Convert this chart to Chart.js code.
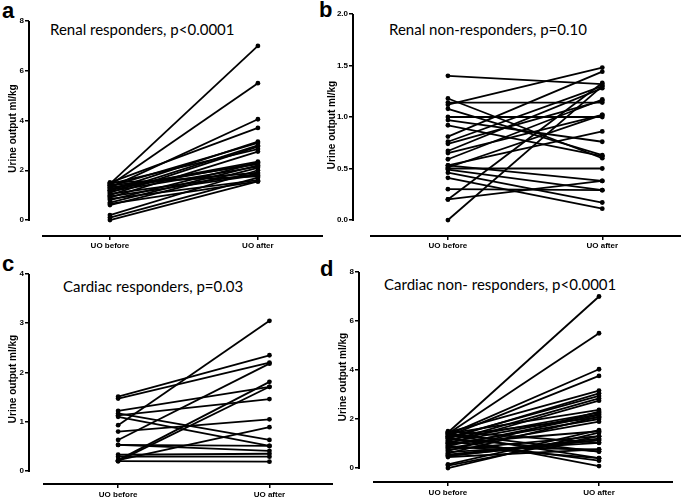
<!DOCTYPE html>
<html>
<head>
<meta charset="utf-8">
<script src="https://cdn.jsdelivr.net/npm/chart.js@4.4.0/dist/chart.umd.min.js"></script>
<style>
  body { margin: 0; background: #fff; width: 685px; height: 498px; position: relative; overflow: hidden; font-family: "Liberation Sans", Arial, sans-serif; }
  canvas { position: absolute; }
  .letter { position: absolute; font-weight: bold; font-size: 22px; line-height: 1; }
  .ttl { position: absolute; font-family: Lato, "Open Sans", sans-serif; font-size: 15px; line-height: 1; white-space: nowrap; }
</style>
</head>
<body>
<div class="letter" style="left:2px;top:0px">a</div>
<div class="letter" style="left:319px;top:-1px">b</div>
<div class="letter" style="left:2px;top:253px">c</div>
<div class="letter" style="left:320px;top:258px">d</div>

<div class="ttl" style="left:50px;top:22px">Renal responders, p&lt;0.0001</div>
<div class="ttl" style="left:389px;top:22px">Renal non-responders, p=0.10</div>
<div class="ttl" style="left:63px;top:279px">Cardiac responders, p=0.03</div>
<div class="ttl" style="left:384px;top:277px">Cardiac non- responders, p&lt;0.0001</div>

<canvas id="chartA" width="340" height="256" style="left:0px;top:0px"></canvas>
<canvas id="chartB" width="360" height="256" style="left:325px;top:0px"></canvas>
<canvas id="chartC" width="345" height="248" style="left:0px;top:250px"></canvas>
<canvas id="chartD" width="355" height="248" style="left:330px;top:250px"></canvas>

<script>
const xLabels = ["UO before", "UO after"];
const yTitle = "Urine output ml/kg";

// a - renal responders
const renalRespBefore = [1.45, 1.4, 1.3, 1.5, 1.2, 1.35, 1.1, 1.0, 1.45, 0.9, 1.25, 0.8, 1.3, 0.7, 1.15, 0.6, 1.4, 1.05, 0.95, 1.5, 0.85, 0.65, 0.2, 0.1, 0.0, 1.2];
const renalRespAfter  = [7.0, 5.5, 4.05, 3.7, 3.15, 3.1, 3.0, 2.95, 2.85, 2.75, 2.35, 2.3, 2.25, 2.2, 2.15, 2.1, 1.9, 1.85, 1.8, 1.75, 1.6, 1.55, 2.0, 1.7, 1.55, 2.3];
const renalRespTicks = [0, 2, 4, 6, 8];

// b - renal non-responders
const renalNonBefore = [1.40, 1.18, 1.12, 1.14, 1.08, 1.00, 0.97, 0.92, 0.81, 0.76, 0.74, 0.67, 0.65, 0.59, 0.53, 0.51, 0.50, 0.53, 0.49, 0.46, 0.41, 0.30, 0.20, 0.20, 0.00];
const renalNonAfter  = [1.32, 0.60, 1.48, 1.14, 0.63, 1.00, 0.76, 0.62, 1.44, 1.30, 1.16, 1.28, 1.02, 1.17, 0.86, 1.02, 0.50, 0.38, 0.29, 0.17, 0.11, 0.29, 0.38, 1.33, 1.30];
const renalNonTicks = [0, 0.5, 1.0, 1.5, 2.0];

// c - cardiac responders
const cardRespBefore = [1.51, 1.47, 0.93, 0.20, 0.63, 0.22, 1.22, 1.13, 1.17, 1.10, 0.80, 0.22, 0.53, 0.53, 0.33, 0.29, 0.20];
const cardRespAfter  = [2.35, 2.20, 3.05, 1.71, 2.18, 1.81, 1.71, 1.46, 0.63, 0.51, 1.05, 0.89, 0.51, 0.41, 0.35, 0.29, 0.19];
const cardRespTicks = [0, 1, 2, 3, 4];

// d - cardiac non-responders
const cardNonBefore = [1.45, 1.4, 1.35, 1.3, 1.45, 1.2, 1.25, 1.1, 1.0, 1.4, 1.15, 0.9, 1.3, 0.8, 0.7, 1.05, 0.6, 0.95, 0.15, 0.0, 0.1, 0.5, 1.5, 0.85, 1.2, 0.55, 1.0, 0.75, 1.35, 0.45, 1.1, 0.65, 1.25, 0.5, 1.4, 0.9];
const cardNonAfter  = [7.0, 5.5, 4.03, 3.76, 3.16, 3.05, 2.94, 2.84, 2.75, 2.37, 2.26, 2.16, 2.07, 1.89, 2.3, 2.2, 2.1, 2.0, 1.55, 1.44, 1.3, 1.14, 1.03, 0.76, 0.67, 1.2, 1.5, 1.3, 0.40, 0.76, 0.30, 1.03, 0.08, 1.14, 0.67, 0.40];
const cardNonTicks = [0, 2, 4, 6, 8];

// draws the two detached axis lines (GraphPad style)
const axisLines = {
  id: "axisLines",
  afterDraw(chart, args, opts) {
    const { ctx, chartArea: area, scales: { y } } = chart;
    ctx.save();
    ctx.strokeStyle = "#000";
    ctx.lineWidth = 2;
    ctx.beginPath();
    ctx.moveTo(area.left, y.getPixelForValue(0) + 1);
    ctx.lineTo(area.left, y.getPixelForValue(y.max));
    ctx.moveTo(area.left + opts.gap, area.bottom);
    ctx.lineTo(area.right, area.bottom);
    ctx.stroke();
    ctx.restore();
  }
};

function makeChart(id, before, after, ticks, p) {
  const datasets = before.map((b, i) => ({
    data: [{ x: 0, y: b }, { x: 1, y: after[i] }],
    borderColor: "#000",
    backgroundColor: "#000",
    borderWidth: 1.8,
    pointRadius: 2.4,
    pointBackgroundColor: "#000",
    pointBorderWidth: 0
  }));

  return new Chart(document.getElementById(id), {
    type: "line",
    data: { datasets },
    plugins: [axisLines],
    options: {
      responsive: false,
      animation: false,
      clip: false,
      layout: { padding: { top: p.padTop, right: p.padRight, left: 0, bottom: 0 } },
      plugins: {
        legend: { display: false },
        tooltip: { enabled: false },
        axisLines: { gap: p.gap }
      },
      scales: {
        x: {
          type: "linear",
          min: p.xMin,
          max: p.xMax,
          afterBuildTicks: s => { s.ticks = [{ value: 0 }, { value: 1 }]; },
          afterFit: s => { s.height = p.xH; },
          border: { display: false },
          grid: { drawOnChartArea: false, drawTicks: true, tickLength: 4, color: "#000", lineWidth: 1.5 },
          ticks: {
            autoSkip: false,
            maxRotation: 0,
            padding: p.xPad,
            color: "#000",
            font: { family: "Liberation Sans", size: 8, weight: "bold" },
            callback: v => xLabels[v]
          }
        },
        y: {
          min: p.yMin,
          max: ticks[ticks.length - 1],
          afterBuildTicks: s => { s.ticks = ticks.map(v => ({ value: v })); },
          afterFit: s => { s.width = p.yW; },
          border: { display: false },
          grid: { drawOnChartArea: false, drawTicks: true, tickLength: 4, color: "#000", lineWidth: 1.5 },
          ticks: {
            padding: 1,
            color: "#000",
            font: { family: "Liberation Sans", size: 8, weight: "bold" },
            callback: v => p.dec ? v.toFixed(1) : v
          },
          title: {
            display: true,
            text: yTitle,
            color: "#000",
            padding: { top: p.titlePad, bottom: 0 },
            font: { family: "Liberation Sans", size: 10, weight: "bold" }
          }
        }
      }
    }
  });
}

makeChart("chartA", renalRespBefore, renalRespAfter, renalRespTicks,
  { padTop: 21, padRight: 17, yW: 29, xH: 20, xPad: 1, yMin: -0.643, xMin: -0.547, xMax: 1.44, gap: 13, titlePad: 7, dec: false });
makeChart("chartB", renalNonBefore, renalNonAfter, renalNonTicks,
  { padTop: 14, padRight: 0, yW: 28, xH: 20, xPad: 1, yMin: -0.155, xMin: -0.615, xMax: 1.51, gap: 17, titlePad: 1, dec: true });
makeChart("chartC", cardRespBefore, cardRespAfter, cardRespTicks,
  { padTop: 24, padRight: 12, yW: 29, xH: 14, xPad: 2, yMin: -0.264, xMin: -0.589, xMax: 1.42, gap: 14, titlePad: 7, dec: false });
makeChart("chartD", cardNonBefore, cardNonAfter, cardNonTicks,
  { padTop: 22, padRight: 12, yW: 29, xH: 16, xPad: 2, yMin: -0.571, xMin: -0.589, xMax: 1.49, gap: 14, titlePad: 7, dec: false });
</script>
</body>
</html>
